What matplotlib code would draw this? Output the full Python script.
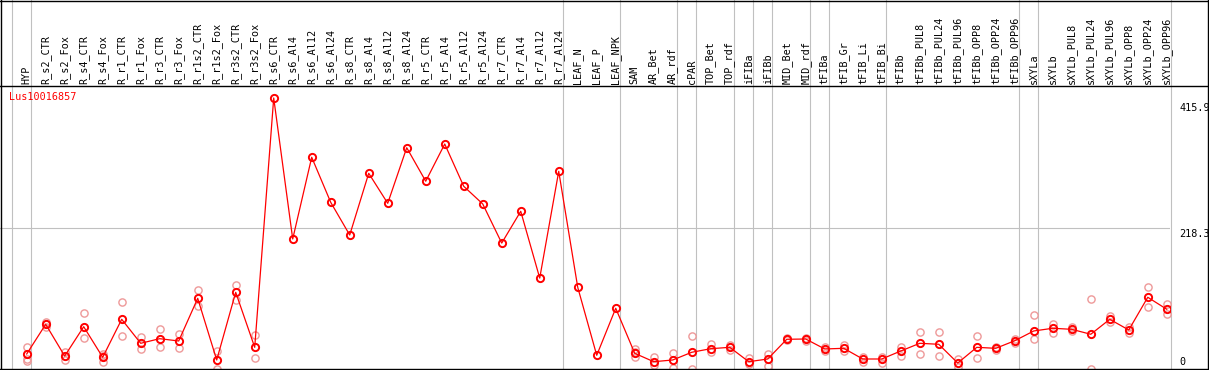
import numpy as np
import matplotlib
matplotlib.use('Agg')
import matplotlib.pyplot as plt
import matplotlib.transforms as mtrans

plt.rcParams['font.family'] = ['DejaVu Sans Mono']

gene = 'Lus10016857'

samples = ['HYP', 'R_s2_CTR', 'R_s2_Fox', 'R_s4_CTR', 'R_s4_Fox', 'R_r1_CTR', 'R_r1_Fox',
           'R_r3_CTR', 'R_r3_Fox', 'R_r1s2_CTR', 'R_r1s2_Fox', 'R_r3s2_CTR', 'R_r3s2_Fox',
           'R_s6_CTR', 'R_s6_Al4', 'R_s6_Al12', 'R_s6_Al24', 'R_s8_CTR', 'R_s8_Al4', 'R_s8_Al12',
           'R_s8_Al24', 'R_r5_CTR', 'R_r5_Al4', 'R_r5_Al12', 'R_r5_Al24', 'R_r7_CTR', 'R_r7_Al4',
           'R_r7_Al12', 'R_r7_Al24', 'LEAF_N', 'LEAF_P', 'LEAF_NPK', 'SAM', 'AR_Bet', 'AR_rdf',
           'cPAR', 'TOP_Bet', 'TOP_rdf', 'iFIBa', 'iFIBb', 'MID_Bet', 'MID_rdf', 'tFIBa',
           'tFIB_Gr', 'tFIB_Li', 'tFIB_Bi', 'tFIBb', 'tFIBb_PUL8', 'tFIBb_PUL24', 'tFIBb_PUL96',
           'tFIBb_OPP8', 'tFIBb_OPP24', 'tFIBb_OPP96', 'sXYLa', 'sXYLb', 'sXYLb_PUL8',
           'sXYLb_PUL24', 'sXYLb_PUL96', 'sXYLb_OPP8', 'sXYLb_OPP24', 'sXYLb_OPP96']

means = [27.7, 72.7, 24.6, 69.1, 22.7, 80.3, 43.9, 50.9, 47.4, 112.1, 18.6, 121.2, 37.8,
         415.9, 202.1, 326.0, 257.7, 208.1, 301.7, 256.2, 340.5, 289.7, 346.1, 282.0, 255.2,
         195.9, 244.1, 142.8, 304.7, 128.8, 25.7, 97.0, 28.7, 16.0, 18.6, 30.3, 35.7, 37.8,
         16.0, 20.1, 50.0, 50.4, 35.3, 36.3, 20.1, 20.1, 32.2, 43.9, 42.4, 14.0, 37.8, 36.3,
         47.8, 62.6, 66.7, 65.1, 57.6, 80.3, 64.1, 113.7, 95.5]

# replicate values (empty where only the mean is shown)
reps = [[37.8, 20.0, 17.5], [76.2, 68.6, 73.0], [30.7, 18.6, 24.0], [89.4, 51.5], [27.7, 15.5, 24.0],
        [106.1, 54.5], [53.0, 34.8], [65.6, 38.8], [57.6, 37.2], [124.7, 100.9], [32.2, 4.5],
        [132.3, 109.6], [56.5, 21.2],
        [], [], [], [], [], [], [], [], [], [], [], [], [], [], [], [], [], [], [],
        [35.3, 23.6, 30.0], [23.6, 11.0], [28.7, 6.0], [55.4, 4.5], [42.8, 30.3], [41.3, 33.7],
        [21.2, 12.1], [27.7, 9.9], [51.5, 48.5], [52.0, 48.0], [38.8, 32.2], [41.3, 32.7],
        [23.6, 16.0], [23.6, 14.5], [38.8, 24.6], [60.6, 27.2], [60.6, 25.1], [19.6, 8.4],
        [55.4, 21.6], [38.5, 34.0], [50.4, 43.9], [86.4, 50.0], [73.6, 59.1], [68.6, 62.6],
        [110.6, 4.5], [85.3, 76.2], [68.2, 59.5], [128.8, 98.5], [103.5, 88.3]]

# group separators sit after these sample indices
group_ends = [-1, 0, 28, 31, 34, 35, 37, 38, 39, 41, 42, 45, 52, 53, 60]

ref_line = 218.3
scale_labels = ['415.9', '218.3', '0']

W, H = 1209, 370
fig = plt.figure(figsize=(W / 100, H / 100), dpi=100)
ax = fig.add_axes([0, 1 / H, 1170 / W, (369 - 85) / H])
ax.set_xlim(-1.405, 60.17)
ax.set_ylim(4.93, 435.6)
ax.axis('off')

x = np.arange(len(samples))
grey = '#c0c0c0'

# grey separators through header and plot
tr = mtrans.blended_transform_factory(ax.transData, fig.transFigure)
for g in group_ends:
    ax.plot([g + 0.21, g + 0.21], [0, 1], color=grey, lw=0.8, transform=tr, clip_on=False, zorder=1)
ax.axhline(ref_line, color=grey, lw=0.8, zorder=1)

# replicates
rx = [i for i, r in enumerate(reps) for _ in r]
ry = [v for r in reps for v in r]
ax.plot(rx, ry, ls='none', marker='o', ms=5.2, mfc='none', mec='#ee9999', mew=1.0, zorder=2,
        clip_on=False)

# means
ax.plot(x, means, color='red', lw=0.9, marker='o', ms=5.2, mfc='none', mec='red', mew=1.4,
        zorder=3)

# sample names
for i, s in enumerate(samples):
    ax.text(i, 1 - 83.5 / H, s, transform=tr, rotation=90, ha='center', va='bottom',
            fontsize=7.3, color='black')

fig.text(9 / W, 1 - 97 / H, gene, color='red', fontsize=7.3, ha='left', va='center')

# scale labels on the right
label_top_px = [103, 229, 357]
for lab, ytop in zip(scale_labels, label_top_px):
    fig.text(1179 / W, 1 - ytop / H, lab, fontsize=7.3, ha='left', va='top')

# black frame and header separator
for xs, ys in [([0, W], [1, 1]), ([0, W], [H - 1, H - 1]),
               ([1, 1], [0, H]), ([W - 1, W - 1], [0, H]), ([0, W], [85.5, 85.5])]:
    fig.add_artist(plt.Line2D([v / W for v in xs], [1 - v / H for v in ys], color='black',
                              lw=1.0))

fig.savefig('out.png', dpi=100, facecolor='white')
